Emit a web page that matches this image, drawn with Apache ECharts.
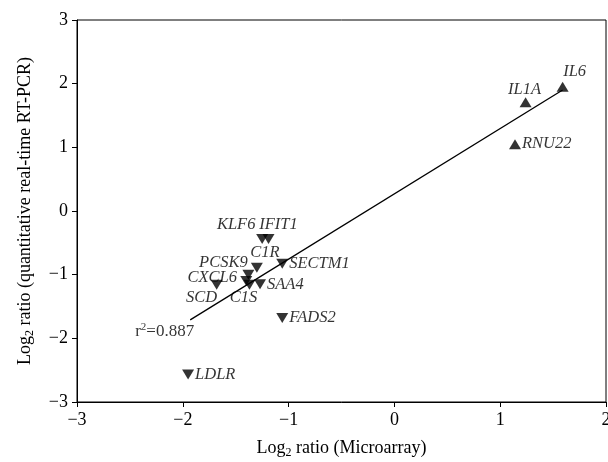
<!DOCTYPE html>
<html>
<head>
<meta charset="utf-8">
<script src="https://cdn.jsdelivr.net/npm/echarts@6/dist/echarts.min.js"></script>
<style>html,body{margin:0;padding:0;background:#fff;}#c{width:608px;height:462px;}</style>
</head>
<body>
<div id="c"></div>
<script>
// ---- data ----
const upGenes = ['IL6', 'IL1A', 'RNU22'];
const upX = [1.59, 1.24, 1.14];
const upY = [1.95, 1.71, 1.05];

const downGenes = ['KLF6', 'IFIT1', 'C1R', 'PCSK9', 'CXCL6', 'C1S', 'SAA4', 'SCD', 'SECTM1', 'FADS2', 'LDLR'];
const downX = [-1.25, -1.19, -1.30, -1.38, -1.40, -1.37, -1.27, -1.68, -1.06, -1.06, -1.95];
const downY = [-0.44, -0.44, -0.89, -1.00, -1.10, -1.16, -1.15, -1.16, -0.83, -1.68, -2.57];

const fitX = [-1.93, 1.59];
const fitY = [-1.71, 1.90];

const r2Value = '0.887';
const r2Pos = [-2.45, -1.90];

const xTicks = [-3, -2, -1, 0, 1, 2];
const yTicks = [-3, -2, -1, 0, 1, 2, 3];

// ---- label layout (style only) ----
const labelLayout = {
  IL6: {offset: [12, -15]},
  IL1A: {offset: [-1, -12]},
  RNU22: {right: true},
  KLF6: {offset: [-26, -14]},
  IFIT1: {offset: [10, -14]},
  C1R: {offset: [8, -15]},
  PCSK9: {offset: [-25, -12]},
  CXCL6: {offset: [-34, -3]},
  SCD: {offset: [-15, 13]},
  C1S: {offset: [-6, 13]},
  SAA4: {right: true},
  SECTM1: {right: true},
  FADS2: {right: true},
  LDLR: {right: true}
};

const serif = '"Liberation Serif", "DejaVu Serif", serif';
const minus = v => String(v).replace('-', '\u2212');

function pointLabel(name) {
  const l = labelLayout[name] || {right: true};
  const base = {show: true, formatter: name, color: '#000', fontFamily: serif, fontStyle: 'italic', fontSize: 16.5};
  if (l.right) return Object.assign(base, {position: 'right', distance: 1});
  return Object.assign(base, {position: 'inside', offset: l.offset});
}

const upData = upGenes.map((g, i) => ({name: g, value: [upX[i], upY[i]], label: pointLabel(g)}));
const downData = downGenes.map((g, i) => ({name: g, value: [downX[i], downY[i]], label: pointLabel(g)}));

const titleRich = {
  b: {fontFamily: serif, fontSize: 18, color: '#000', lineHeight: 22},
  s: {fontFamily: serif, fontSize: 12, color: '#000', lineHeight: 12, verticalAlign: 'bottom'}
};

const chart = echarts.init(document.getElementById('c'), null, {renderer: 'canvas'});
chart.setOption({
  animation: false,
  grid: {left: 77, right: 2, top: 20, bottom: 60, show: true, borderColor: '#000', borderWidth: 1,
         containLabel: false, outerBoundsMode: 'none'},
  xAxis: {
    type: 'value', min: xTicks[0], max: xTicks[xTicks.length - 1], interval: 1,
    splitLine: {show: false},
    axisLine: {onZero: false, lineStyle: {color: '#000', width: 1}},
    axisTick: {show: true, length: 5, lineStyle: {color: '#000'}},
    axisLabel: {color: '#000', fontFamily: serif, fontSize: 18, margin: 9, formatter: minus},
    name: '{b|Log}{s|2}{b| ratio (Microarray)}',
    nameLocation: 'middle', nameGap: 35,
    nameTextStyle: {rich: titleRich}
  },
  yAxis: {
    type: 'value', min: yTicks[0], max: yTicks[yTicks.length - 1], interval: 1,
    splitLine: {show: false},
    axisLine: {onZero: false, lineStyle: {color: '#000', width: 1}},
    axisTick: {show: true, length: 5, lineStyle: {color: '#000'}},
    axisLabel: {color: '#000', fontFamily: serif, fontSize: 18, margin: 9, formatter: minus},
    name: '{b|Log}{s|2}{b| ratio (quantitative real-time RT-PCR)}',
    nameLocation: 'middle', nameGap: 41, nameRotate: 90,
    nameTextStyle: {rich: titleRich}
  },
  series: [
    {
      type: 'line', data: fitX.map((x, i) => [x, fitY[i]]),
      symbol: 'none', lineStyle: {color: '#000', width: 1.3}, silent: true, z: 1
    },
    {
      type: 'scatter', data: upData, symbol: 'triangle', symbolSize: [12, 10],
      itemStyle: {color: '#000'}, z: 3
    },
    {
      type: 'scatter', data: downData, symbol: 'triangle', symbolRotate: 180, symbolSize: [12, 10],
      itemStyle: {color: '#000'}, z: 3
    },
    {
      type: 'scatter', data: [{value: r2Pos}], symbolSize: 0, silent: true,
      label: {
        show: true, position: 'right', distance: 0,
        formatter: '{b|r}{p|2}{b|=' + r2Value + '}',
        rich: {
          b: {fontFamily: serif, fontSize: 17, color: '#000', lineHeight: 20},
          p: {fontFamily: serif, fontSize: 11, color: '#000', lineHeight: 10, verticalAlign: 'top'}
        }
      }
    }
  ]
});
</script>
</body>
</html>
